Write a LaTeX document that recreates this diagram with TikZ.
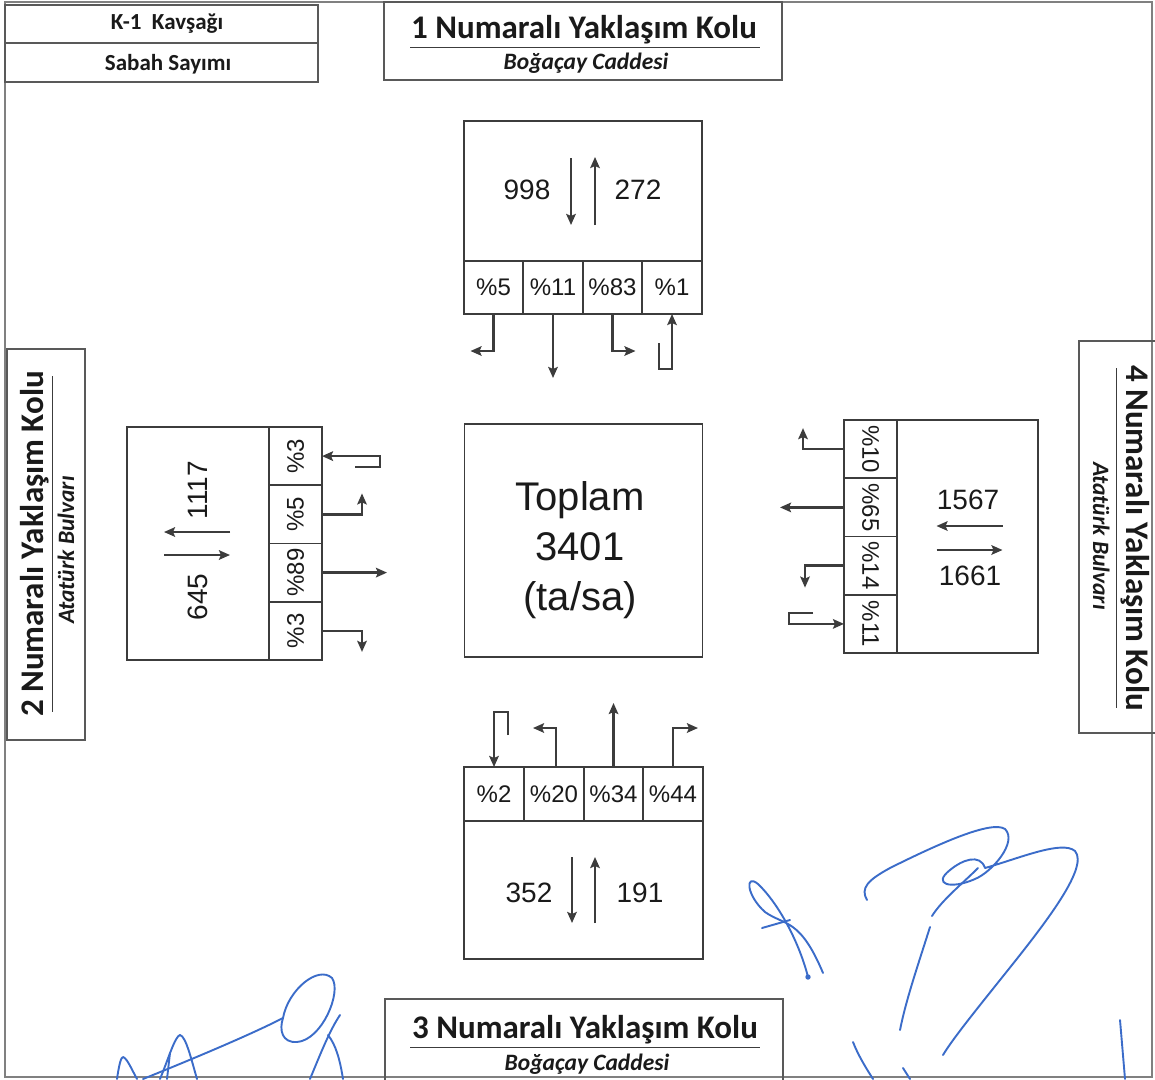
\documentclass[tikz,border=0pt]{standalone}
\usepackage{fontspec}
\setmainfont{Liberation Sans}
\newfontfamily\calib{Carlito}
\usetikzlibrary{arrows.meta}
\definecolor{sigblue}{HTML}{3B6CC9}
\definecolor{ln}{HTML}{3C3C3C}
\definecolor{fr}{HTML}{808080}
\definecolor{tx}{HTML}{1A1A1A}
\begin{document}
\begin{tikzpicture}[x=1pt,y=-1pt,
  frame/.style={draw=fr,line width=1.2pt},
  hbox/.style={draw=ln!85,line width=1.5pt},
  box/.style={draw=ln,line width=1.6pt,inner sep=0pt,outer sep=0pt},
  cell/.style={box,text=tx,font=\fontsize{24}{26}\selectfont},
  mv/.style={draw=ln,line width=2.4pt,-{Stealth[length=11pt,width=9.5pt,inset=2pt]}},
  num/.style={text=tx,font=\fontsize{28}{30}\selectfont,inner sep=0pt},
  ttl/.style={text=tx,font=\calib\bfseries\fontsize{33}{35}\selectfont,inner sep=0pt,anchor=base},
  sub/.style={text=tx,font=\calib\bfseries\itshape\fontsize{23.5}{25}\selectfont,inner sep=0pt,anchor=base},
  hdr/.style={text=tx,font=\calib\bfseries\fontsize{23}{25}\selectfont,inner sep=0pt},
  sig/.style={draw=sigblue,line width=1.9pt,line cap=round,line join=round}
]
\useasboundingbox (0,0) rectangle (1155,1079);
\clip (0,0) rectangle (1155,1079);
\fill[white] (0,0) rectangle (1155,1079);

% outer frame
\draw[frame] (5,2) rectangle (1152,1077);

% ---------- header boxes ----------
\draw[hbox] (5,5) rectangle (318,82);
\draw[hbox] (5,43) -- (318,43);
\node[hdr] (k1) at (167,24) {K-1\ \ Kavşağı};
\node[hdr] (sabah) at (168,64) {Sabah Sayımı};

% approach 1 (top)
\draw[hbox] (384,2) rectangle (782,80);
\node[ttl] (h1t) at (584,38) {1 Numaralı Yaklaşım Kolu};
\draw[ln,line width=1.2pt] (410,47.5) -- (760,47.5);
\node[sub] (h1s) at (586,69) {Boğaçay Caddesi};

% approach 3 (bottom)
\draw[hbox] (385,999) rectangle (783,1090);
\node[ttl] (h3t) at (585,1038) {3 Numaralı Yaklaşım Kolu};
\draw[ln,line width=1.2pt] (410,1047.5) -- (760,1047.5);
\node[sub] (h3s) at (587,1070) {Boğaçay Caddesi};

% approach 2 (left)
\draw[hbox] (7,349) rectangle (85,740);
\node[ttl,rotate=90] (h2t) at (43,544) {2 Numaralı Yaklaşım Kolu};
\draw[ln,line width=1.2pt] (52.5,376) -- (52.5,712);
\node[sub,rotate=90] (h2s) at (74,550) {Atatürk Bulvarı};

% approach 4 (right)
\draw[hbox] (1079,341) rectangle (1170,733);
\node[ttl,rotate=-90] (h4t) at (1126,538) {4 Numaralı Yaklaşım Kolu};
\draw[ln,line width=1.2pt] (1116.5,368) -- (1116.5,708);
\node[sub,rotate=-90] (h4s) at (1093,536) {Atatürk Bulvarı};

% ---------- centre ----------
\node[box,minimum width=238pt,minimum height=233pt] (C) at (583.5,540.5) {};
\node[text=tx,align=center,font=\fontsize{40}{50}\selectfont] (Ct) at (580,550) {Toplam\\3401\\(ta/sa)};

% ---------- top approach block ----------
\node[box,minimum width=238pt,minimum height=140pt] (T) at (583,191) {};
\node[cell,minimum width=59pt,minimum height=53pt] (t1) at (493.5,287.5) {\%5};
\node[cell,minimum width=60pt,minimum height=53pt] (t2) at (553,287.5) {\%11};
\node[cell,minimum width=59pt,minimum height=53pt] (t3) at (612.5,287.5) {\%83};
\node[cell,minimum width=60pt,minimum height=53pt] (t4) at (672,287.5) {\%1};
\node[num] (tin) at (527,190) {998};
\node[num] (tout) at (638,190) {272};
\draw[mv] (T.center) ++(-12,-33) -- ++(0,67);
\draw[mv] (T.center) ++(12,34) -- ++(0,-68);
\draw[mv] (t1.south) -- ++(0,37) -- ++(-23,0);
\draw[mv] (t2.south) -- ++(0,64);
\draw[mv] (t3.south) -- ++(0,37) -- ++(23,0);
\draw[mv] (t4.south) ++(-13,29) -- ++(0,26) -- ++(13,0) -- (t4.south);

% ---------- bottom approach block ----------
\node[box,minimum width=239pt,minimum height=138pt] (B) at (583.5,890) {};
\node[cell,minimum width=60pt,minimum height=54pt] (b1) at (494,794) {\%2};
\node[cell,minimum width=60pt,minimum height=54pt] (b2) at (554,794) {\%20};
\node[cell,minimum width=59pt,minimum height=54pt] (b3) at (613.5,794) {\%34};
\node[cell,minimum width=60pt,minimum height=54pt] (b4) at (673,794) {\%44};
\node[num] (bin) at (529,893) {352};
\node[num] (bout) at (640,893) {191};
\draw[mv] (B.center) ++(-11.5,-33) -- ++(0,66);
\draw[mv] (B.center) ++(11.5,33) -- ++(0,-66);
\draw[mv] (b1.north) ++(14,-32) -- ++(0,-23) -- ++(-14,0) -- (b1.north);
\draw[mv] (b2.north) ++(2,0) -- ++(0,-39) -- ++(-23,0);
\draw[mv] (b3.north) -- ++(0,-64);
\draw[mv] (b4.north) -- ++(0,-39) -- ++(25,0);

% ---------- left approach block ----------
\node[box,minimum width=142pt,minimum height=233pt] (L) at (198,543.5) {};
\node[cell,minimum width=53pt,minimum height=58.25pt] (l1) at (295.5,456.1) {\rotatebox{90}{\%3}};
\node[cell,minimum width=53pt,minimum height=58.25pt] (l2) at (295.5,514.4) {\rotatebox{90}{\%5}};
\node[cell,minimum width=53pt,minimum height=58.25pt] (l3) at (295.5,572.6) {\rotatebox{90}{\%89}};
\node[cell,minimum width=53pt,minimum height=58.25pt] (l4) at (295.5,630.9) {\rotatebox{90}{\%3}};
\node[num,rotate=90] (lout) at (198,490) {1117};
\node[num,rotate=90] (lin) at (198,597) {645};
\draw[mv] (L.center) ++(32,-11.5) -- ++(-66,0);
\draw[mv] (L.center) ++(-34,11.5) -- ++(66,0);
\draw[mv] (l1.east) ++(33,11) -- ++(25,0) -- ++(0,-11) -- (l1.east);
\draw[mv] (l2.east) -- ++(40,0) -- ++(0,-21);
\draw[mv] (l3.east) -- ++(65,0);
\draw[mv] (l4.east) -- ++(40,0) -- ++(0,21);

% ---------- right approach block ----------
\node[box,minimum width=141pt,minimum height=233pt] (R) at (967.5,536.5) {};
\node[cell,minimum width=53pt,minimum height=58.25pt] (r1) at (870.5,449.1) {\rotatebox{-90}{\%10}};
\node[cell,minimum width=53pt,minimum height=58.25pt] (r2) at (870.5,507.4) {\rotatebox{-90}{\%65}};
\node[cell,minimum width=53pt,minimum height=58.25pt] (r3) at (870.5,565.6) {\rotatebox{-90}{\%14}};
\node[cell,minimum width=53pt,minimum height=58.25pt] (r4) at (870.5,623.9) {\rotatebox{-90}{\%11}};
\node[num] (rin) at (968,500) {1567};
\node[num] (rout) at (970,576) {1661};
\draw[mv] (R.center) ++(35,-10.5) -- ++(-66,0);
\draw[mv] (R.center) ++(-31,13.5) -- ++(66,0);
\draw[mv] (r1.west) -- ++(-41,0) -- ++(0,-21);
\draw[mv] (r2.west) -- ++(-64,0);
\draw[mv] (r3.west) -- ++(-39,0) -- ++(0,22);
\draw[mv] (r4.west) ++(-31,-11) -- ++(-24,0) -- ++(0,11) -- (r4.west);

% ---------- signatures ----------
% bottom left
\draw[sig] (117,1079) .. controls (119,1065) and (121,1057) .. (123,1057) .. controls (127,1058) and (132,1070) .. (137,1079);
\draw[sig] (160,1079) .. controls (168,1060) and (175,1036) .. (180,1035) .. controls (186,1036) and (192,1062) .. (197,1079);
\draw[sig] (170,1053) -- (167,1079);
\draw[sig] (143,1079) .. controls (190,1060) and (250,1035) .. (283,1018);
\draw[sig] (283,1018) .. controls (288,990) and (318,965) .. (332,978) .. controls (342,992) and (322,1040) .. (297,1042) .. controls (282,1043) and (279,1030) .. (283,1018);
\draw[sig] (340,1015) .. controls (330,1030) and (322,1050) .. (310,1079);
\draw[sig] (328,1035) .. controls (336,1045) and (340,1060) .. (343,1079);
% right side
\draw[sig] (808,977) .. controls (800,945) and (780,905) .. (758,884) .. controls (745,873) and (746,895) .. (765,912) .. controls (785,926) and (800,918) .. (823,973);
\draw[sig] (762,928) -- (790,920);
\fill[sigblue] (808,977) circle (2.7pt);
\draw[sig] (867,900) .. controls (860,888) and (868,880) .. (890,868) .. controls (940,843) and (992,820) .. (1005,829) .. controls (1018,842) and (992,872) .. (975,879) .. controls (950,890) and (932,884) .. (950,870) .. controls (962,860) and (980,853) .. (985,868) .. controls (1020,858) and (1062,840) .. (1075,851) .. controls (1090,868) and (1040,930) .. (1000,980) .. controls (972,1015) and (952,1040) .. (943,1055);
\draw[sig] (978,868) .. controls (962,884) and (942,900) .. (932,916);
\draw[sig] (930,927) .. controls (917,968) and (906,1000) .. (900,1030);
\draw[sig] (853,1042) .. controls (858,1055) and (866,1068) .. (873,1079);
\draw[sig] (903,1068) -- (910,1079);
\draw[sig] (1120,1020) -- (1125,1079);
\end{tikzpicture}
\end{document}
